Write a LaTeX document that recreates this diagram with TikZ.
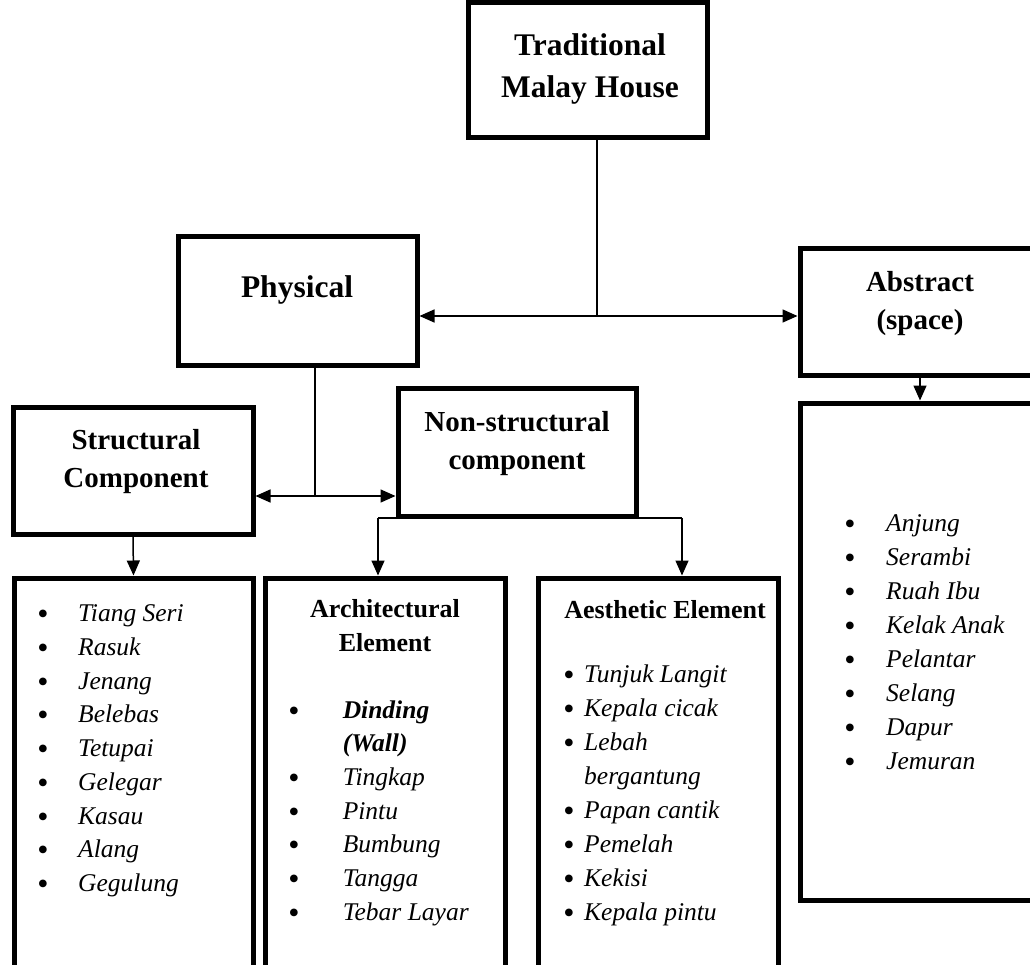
\documentclass[tikz,border=0pt]{standalone}
\usepackage{fontspec}
\setmainfont{Liberation Serif}
\usetikzlibrary{arrows.meta}
\tikzset{
    heavy-box/.style = {draw, line width=5pt, rectangle, inner sep=0pt},
    big-title/.style = {font=\bfseries\fontsize{31.5}{42}\selectfont, align=center, inner sep=0pt},
    box-title/.style = {font=\bfseries\fontsize{29}{38}\selectfont, align=center, inner sep=0pt},
    list-head/.style = {font=\bfseries\fontsize{26}{34}\selectfont, align=center, inner sep=0pt},
    list-item/.style = {font=\itshape\fontsize{25.5}{34}\selectfont, anchor=base west, inner sep=0pt},
    list-dot/.style = {font=\fontsize{32}{34}\selectfont, anchor=base, inner sep=0pt, yshift=-3pt},
    link/.style = {line width=1.5pt},
    link-arrow/.style = {line width=1.5pt, -{Triangle[length=15pt,width=13pt]}},
    both-arrow/.style = {line width=1.5pt, {Triangle[length=15pt,width=13pt]}-{Triangle[length=15pt,width=13pt]}},
}

\begin{document}
\begin{tikzpicture}[x=1pt,y=-1pt]
\useasboundingbox (0,0) rectangle (1030,965);
\clip (0,0) rectangle (1030,965);

% upper boxes
\node[heavy-box, minimum width=239pt, minimum height=135pt] (house) at (587.5,70.5) {};
\node[heavy-box, minimum width=239pt, minimum height=128pt] (physical) at (297.5,301) {};
\node[heavy-box, minimum width=240pt, minimum height=126pt] (abstract) at (920,312) {};
\node[heavy-box, minimum width=240pt, minimum height=127pt] (structural) at (133,470.5) {};
\node[heavy-box, minimum width=238pt, minimum height=128pt] (nonstruct) at (517,452) {};

\node[big-title] (house-t) at (590,69) {Traditional\\Malay House};
\node[big-title] (physical-t) at (297,290) {Physical};
\node[box-title] (abstract-t) at (920,304) {Abstract\\(space)};
\node[box-title] (structural-t) at (136,461.5) {Structural\\Component};
\node[box-title] (nonstruct-t) at (517,444) {Non-structural\\component};

% lower boxes
\node[heavy-box, minimum width=239pt, minimum height=412pt] (stlist) at (133.5,784) {};
\node[heavy-box, minimum width=240pt, minimum height=412pt] (archlist) at (385,784) {};
\node[heavy-box, minimum width=240pt, minimum height=412pt] (aestlist) at (658,784) {};
\node[heavy-box, minimum width=240pt, minimum height=497pt] (abslist) at (920,651.5) {};

\node[list-head] (archlist-t) at (385,626) {Architectural\\Element};
\node[list-head, anchor=base] (aestlist-t) at (665,618) {Aesthetic Element};

% connectors
\coordinate (hub-top) at (597,316);
\draw[link] (house.south -| hub-top) -- (hub-top);
\draw[both-arrow] (physical.east |- hub-top) -- (abstract.west |- hub-top);

\coordinate (hub-mid) at (315,496);
\draw[link] (physical.south -| hub-mid) -- (hub-mid);
\draw[both-arrow] (structural.east |- hub-mid) -- (nonstruct.west |- hub-mid);

\draw[link-arrow] (abstract.south) -- (abslist.north);
\draw[link-arrow] (structural.south) -- (stlist.north);

\coordinate (fork-l) at (378,518);
\coordinate (fork-r) at (682,518);
\draw[link] (fork-l) -- (fork-r);
\draw[link-arrow] (fork-l) -- (archlist.north -| fork-l);
\draw[link-arrow] (fork-r) -- (aestlist.north -| fork-r);

% lists
\foreach \entry [count=\i] in {Tiang Seri, Rasuk, Jenang, Belebas, Tetupai, Gelegar, Kasau, Alang, Gegulung} {
    \node[list-dot] (st-dot\i) at (43,{621.7+33.75*(\i-1)}) {\textbullet};
    \node[list-item] (st-\i) at (78,{621.7+33.75*(\i-1)}) {\entry};
}

\foreach \entry [count=\i] in {Anjung, Serambi, Ruah Ibu, Kelak Anak, Pelantar, Selang, Dapur, Jemuran} {
    \node[list-dot] (ab-dot\i) at (850,{531.7+34*(\i-1)}) {\textbullet};
    \node[list-item] (ab-\i) at (886,{531.7+34*(\i-1)}) {\entry};
}

\node[list-dot] (ar-dot1) at (294,718) {\textbullet};
\node[list-item] (ar-1) at (342.6,718) {\textbf{Dinding}};
\node[list-item] (ar-1b) at (342.6,751.7) {\textbf{(Wall)}};
\foreach \entry [count=\i from 2] in {Tingkap, Pintu, Bumbung, Tangga, Tebar Layar} {
    \node[list-dot] (ar-dot\i) at (294,{718+33.7*\i}) {\textbullet};
    \node[list-item] (ar-\i) at (342.6,{718+33.7*\i}) {\entry};
}

\node[list-dot] (ae-dot1) at (569,682) {\textbullet};
\node[list-item] (ae-1) at (584,682) {Tunjuk Langit};
\node[list-dot] (ae-dot2) at (569,716) {\textbullet};
\node[list-item] (ae-2) at (584,716) {Kepala cicak};
\node[list-dot] (ae-dot3) at (569,750) {\textbullet};
\node[list-item] (ae-3) at (584,750) {Lebah};
\node[list-item] (ae-3b) at (584,784) {bergantung};
\foreach \entry [count=\i from 4] in {Papan cantik, Pemelah, Kekisi, Kepala pintu} {
    \node[list-dot] (ae-dot\i) at (569,{682+34*\i}) {\textbullet};
    \node[list-item] (ae-\i) at (584,{682+34*\i}) {\entry};
}
\end{tikzpicture}
\end{document}
